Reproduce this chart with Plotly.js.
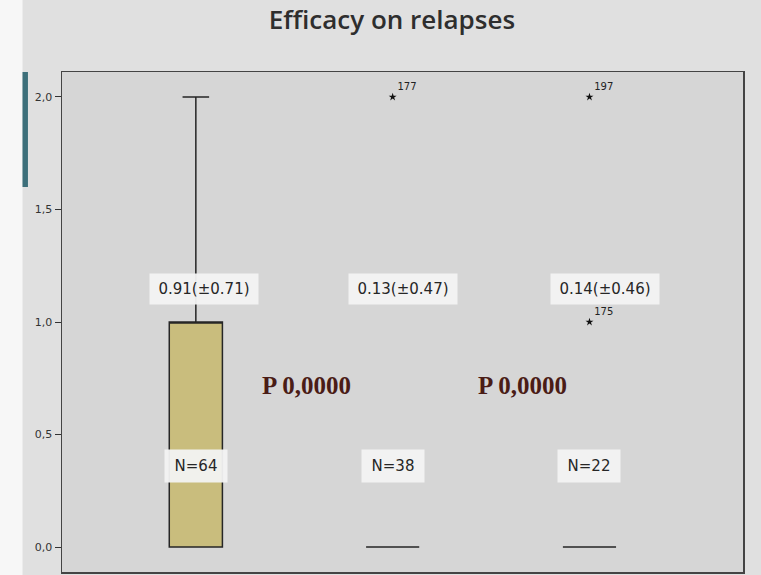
<!DOCTYPE html>
<html>
<head>
<meta charset="utf-8">
<script src="https://cdn.plot.ly/plotly-3.0.1.min.js"></script>
<style>html,body{margin:0;padding:0;background:#e2e2e2;}#chart{width:761px;height:575px;}</style>
</head>
<body>
<div id="chart"></div>
<script>
// ---- data ----
const groups = ["Group 1", "Group 2", "Group 3"];
const q1 = [0, 0, 0];
const median = [1, 0, 0];
const q3 = [1, 0, 0];
const lowerFence = [0, 0, 0];
const upperFence = [2, 0, 0];
const meanSdLabels = ["0.91(\u00b10.71)", "0.13(\u00b10.47)", "0.14(\u00b10.46)"];
const nLabels = ["N=64", "N=38", "N=22"];
const outlierGroup = ["Group 2", "Group 3", "Group 3"];
const outlierValue = [2, 2, 1];
const outlierCase = ["177", "197", "175"];
const pLabels = ["P 0,0000", "P 0,0000"];
const yTicks = [0, 0.5, 1, 1.5, 2];

const boxTrace = {
  type: "box",
  x: groups,
  q1: q1, median: median, q3: q3,
  lowerfence: lowerFence, upperfence: upperFence,
  width: 0.27,
  whiskerwidth: 0.5,
  fillcolor: "#c9bd7d",
  line: {color: "#262626", width: 1.5},
  boxpoints: false,
  hoverinfo: "skip",
  showlegend: false
};

const outlierTrace = {
  type: "scatter",
  mode: "markers+text",
  x: outlierGroup,
  y: outlierValue,
  text: outlierCase,
  textposition: "top right",
  textfont: {family: "DejaVu Sans", size: 10, color: "#222"},
  marker: {symbol: "star", size: 6, color: "#111"},
  showlegend: false,
  hoverinfo: "skip"
};

const statX = [0.04, 1.05, 2.08];
const pX = [0.56, 1.66];
const annotations = [];
meanSdLabels.forEach((t, i) => annotations.push({
  x: statX[i], y: 1.145, xref: "x", yref: "y", text: t, showarrow: false,
  font: {family: "DejaVu Sans", size: 15, color: "#262626"},
  bgcolor: "rgba(243,243,243,0.95)", borderpad: 6, width: 96, height: 18
}));
nLabels.forEach((t, i) => annotations.push({
  x: i, y: 0.36, xref: "x", yref: "y", text: t, showarrow: false,
  font: {family: "DejaVu Sans", size: 15, color: "#262626"},
  bgcolor: "rgba(243,243,243,0.95)", borderpad: 6, width: 50, height: 20
}));
pLabels.forEach((t, i) => annotations.push({
  x: pX[i], y: 0.72, xref: "x", yref: "y", text: "<b>" + t + "</b>", showarrow: false,
  font: {family: "Liberation Serif, Times New Roman", size: 25, color: "#4a1c16"}
}));

const layout = {
  width: 761, height: 575,
  margin: {l: 62, r: 18, t: 72, b: 3},
  paper_bgcolor: "#e0e0e0",
  plot_bgcolor: "#d6d6d6",
  separators: ",.",
  title: {
    text: "Efficacy on relapses",
    font: {family: "Open Sans, Liberation Sans", size: 26, color: "#2e2e2e", weight: 600},
    x: 0.515, xanchor: "center", y: 0.965, yanchor: "middle"
  },
  xaxis: {
    type: "category",
    range: [-0.68, 2.78],
    showticklabels: false, ticks: "",
    showline: true, mirror: true, linecolor: "#444", linewidth: 1.5,
    showgrid: false, zeroline: false
  },
  yaxis: {
    range: [-0.111, 2.111],
    tickvals: yTicks, tickformat: ".1f",
    ticks: "outside", ticklen: 6, tickcolor: "#333",
    tickfont: {family: "DejaVu Sans", size: 11, color: "#333"},
    showline: true, mirror: true, linecolor: "#444", linewidth: 1.5,
    showgrid: false, zeroline: false
  },
  annotations: annotations,
  shapes: [
    {type: "rect", xref: "paper", yref: "paper", x0: -0.2, x1: -0.058, y0: -0.01, y1: 1.2,
     fillcolor: "#f7f7f7", line: {width: 0}, layer: "below"},
    {type: "rect", xref: "paper", yref: "paper", x0: -0.058, x1: -0.05, y0: 0.77, y1: 1.0,
     fillcolor: "#3d6f7a", line: {width: 0}, layer: "below"}
  ]
};

Plotly.newPlot("chart", [boxTrace, outlierTrace], layout, {displayModeBar: false, staticPlot: true});
</script>
</body>
</html>
